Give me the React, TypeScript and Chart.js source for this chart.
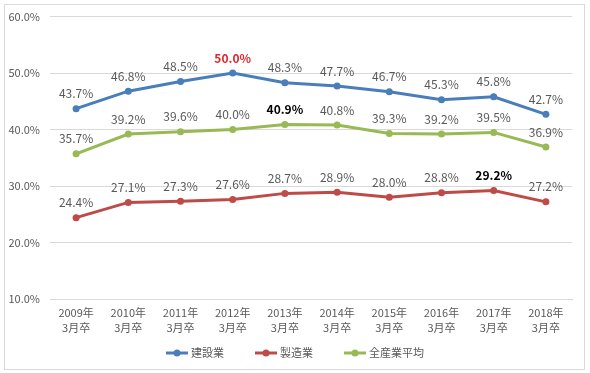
import React, { useEffect, useRef } from "react";
import { Chart, registerables } from "chart.js";

Chart.register(...registerables);

const categories = [
  ["2009年", "3月卒"],
  ["2010年", "3月卒"],
  ["2011年", "3月卒"],
  ["2012年", "3月卒"],
  ["2013年", "3月卒"],
  ["2014年", "3月卒"],
  ["2015年", "3月卒"],
  ["2016年", "3月卒"],
  ["2017年", "3月卒"],
  ["2018年", "3月卒"],
];
const construction = [43.7, 46.8, 48.5, 50.0, 48.3, 47.7, 46.7, 45.3, 45.8, 42.7];
const manufacturing = [24.4, 27.1, 27.3, 27.6, 28.7, 28.9, 28.0, 28.8, 29.2, 27.2];
const allIndustries = [35.7, 39.2, 39.6, 40.0, 40.9, 40.8, 39.3, 39.2, 39.5, 36.9];
const seriesNames = ["建設業", "製造業", "全産業平均"];
const seriesColors = ["#4A7EBB", "#BE4B48", "#98B954"];
// highlighted labels: [datasetIndex, pointIndex, color]
const highlights: [number, number, string][] = [
  [0, 3, "#E3262B"],
  [2, 4, "#000000"],
  [1, 8, "#000000"],
];

const FONT = "'Noto Sans CJK JP', 'Noto Sans', sans-serif";
const TEXT = "#595959";

const labelPlugin = {
  id: "customDecor",
  beforeDraw(chart: any) {
    const ctx = chart.ctx;
    ctx.save();
    ctx.fillStyle = "#ffffff";
    ctx.fillRect(0, 0, chart.width, chart.height);
    ctx.strokeStyle = "#D9D9D9";
    ctx.lineWidth = 1;
    ctx.strokeRect(4.5, 4.5, 580, 365);
    ctx.restore();
  },
  afterDatasetsDraw(chart: any) {
    const ctx = chart.ctx;
    ctx.save();
    ctx.textAlign = "center";
    ctx.textBaseline = "middle";
    chart.data.datasets.forEach((ds: any, di: number) => {
      const meta = chart.getDatasetMeta(di);
      meta.data.forEach((el: any, i: number) => {
        const h = highlights.find((x) => x[0] === di && x[1] === i);
        ctx.font = (h ? "bold " : "") + "12px " + FONT;
        ctx.fillStyle = h ? h[2] : TEXT;
        ctx.fillText(ds.data[i].toFixed(1) + "%", el.x, el.y - 15);
      });
    });
    // legend
    ctx.font = "11px " + FONT;
    const lineW = 22;
    const gap = 3;
    const itemGap = 31;
    const widths = seriesNames.map((n) => lineW + gap + ctx.measureText(n).width);
    const total = widths.reduce((a, b) => a + b, 0) + itemGap * (seriesNames.length - 1);
    let x = 295 - total / 2;
    const y = 353;
    ctx.textAlign = "left";
    seriesNames.forEach((n, i) => {
      ctx.strokeStyle = seriesColors[i];
      ctx.fillStyle = seriesColors[i];
      ctx.lineWidth = 3;
      ctx.beginPath();
      ctx.moveTo(x, y);
      ctx.lineTo(x + lineW, y);
      ctx.stroke();
      ctx.beginPath();
      ctx.arc(x + lineW / 2, y, 3.5, 0, Math.PI * 2);
      ctx.fill();
      ctx.fillStyle = TEXT;
      ctx.fillText(n, x + lineW + gap, y);
      x += widths[i] + itemGap;
    });
    ctx.restore();
  },
};

export default function App() {
  const ref = useRef<HTMLCanvasElement>(null);
  useEffect(() => {
    if (!ref.current) return;
    const data = [construction, manufacturing, allIndustries];
    const chart = new Chart(ref.current, {
      type: "line",
      data: {
        labels: categories as any,
        datasets: seriesNames.map((n, i) => ({
          label: n,
          data: data[i],
          borderColor: seriesColors[i],
          backgroundColor: seriesColors[i],
          borderWidth: 3,
          pointRadius: 3.5,
          pointBorderWidth: 0,
          pointBackgroundColor: seriesColors[i],
          tension: 0,
        })),
      },
      options: {
        responsive: false,
        animation: false,
        layout: { padding: { left: 0, right: 18, top: 16, bottom: 0 } },
        plugins: { legend: { display: false }, tooltip: { enabled: false } },
        scales: {
          x: {
            offset: true,
            grid: { display: false, drawTicks: false },
            border: { color: "#D9D9D9" },
            ticks: {
              color: TEXT,
              font: { family: FONT, size: 11, lineHeight: 1.3 },
              padding: 7,
              maxRotation: 0,
              autoSkip: false,
            },
            afterFit(s: any) {
              s.height = 74;
            },
          },
          y: {
            min: 10,
            max: 60,
            grid: { color: "#D9D9D9", drawTicks: false },
            border: { display: false },
            ticks: {
              stepSize: 10,
              color: TEXT,
              padding: 10,
              font: { family: FONT, size: 11 },
              callback: (v: any) => Number(v).toFixed(1) + "%",
            },
            afterFit(s: any) {
              s.width = 50;
            },
          },
        },
      },
      plugins: [labelPlugin],
    });
    return () => chart.destroy();
  }, []);
  return (
    <div style={{ position: "fixed", left: 0, top: 0, width: 590, height: 373 }}>
      <canvas ref={ref} width={590} height={373} style={{ display: "block" }} />
    </div>
  );
}
